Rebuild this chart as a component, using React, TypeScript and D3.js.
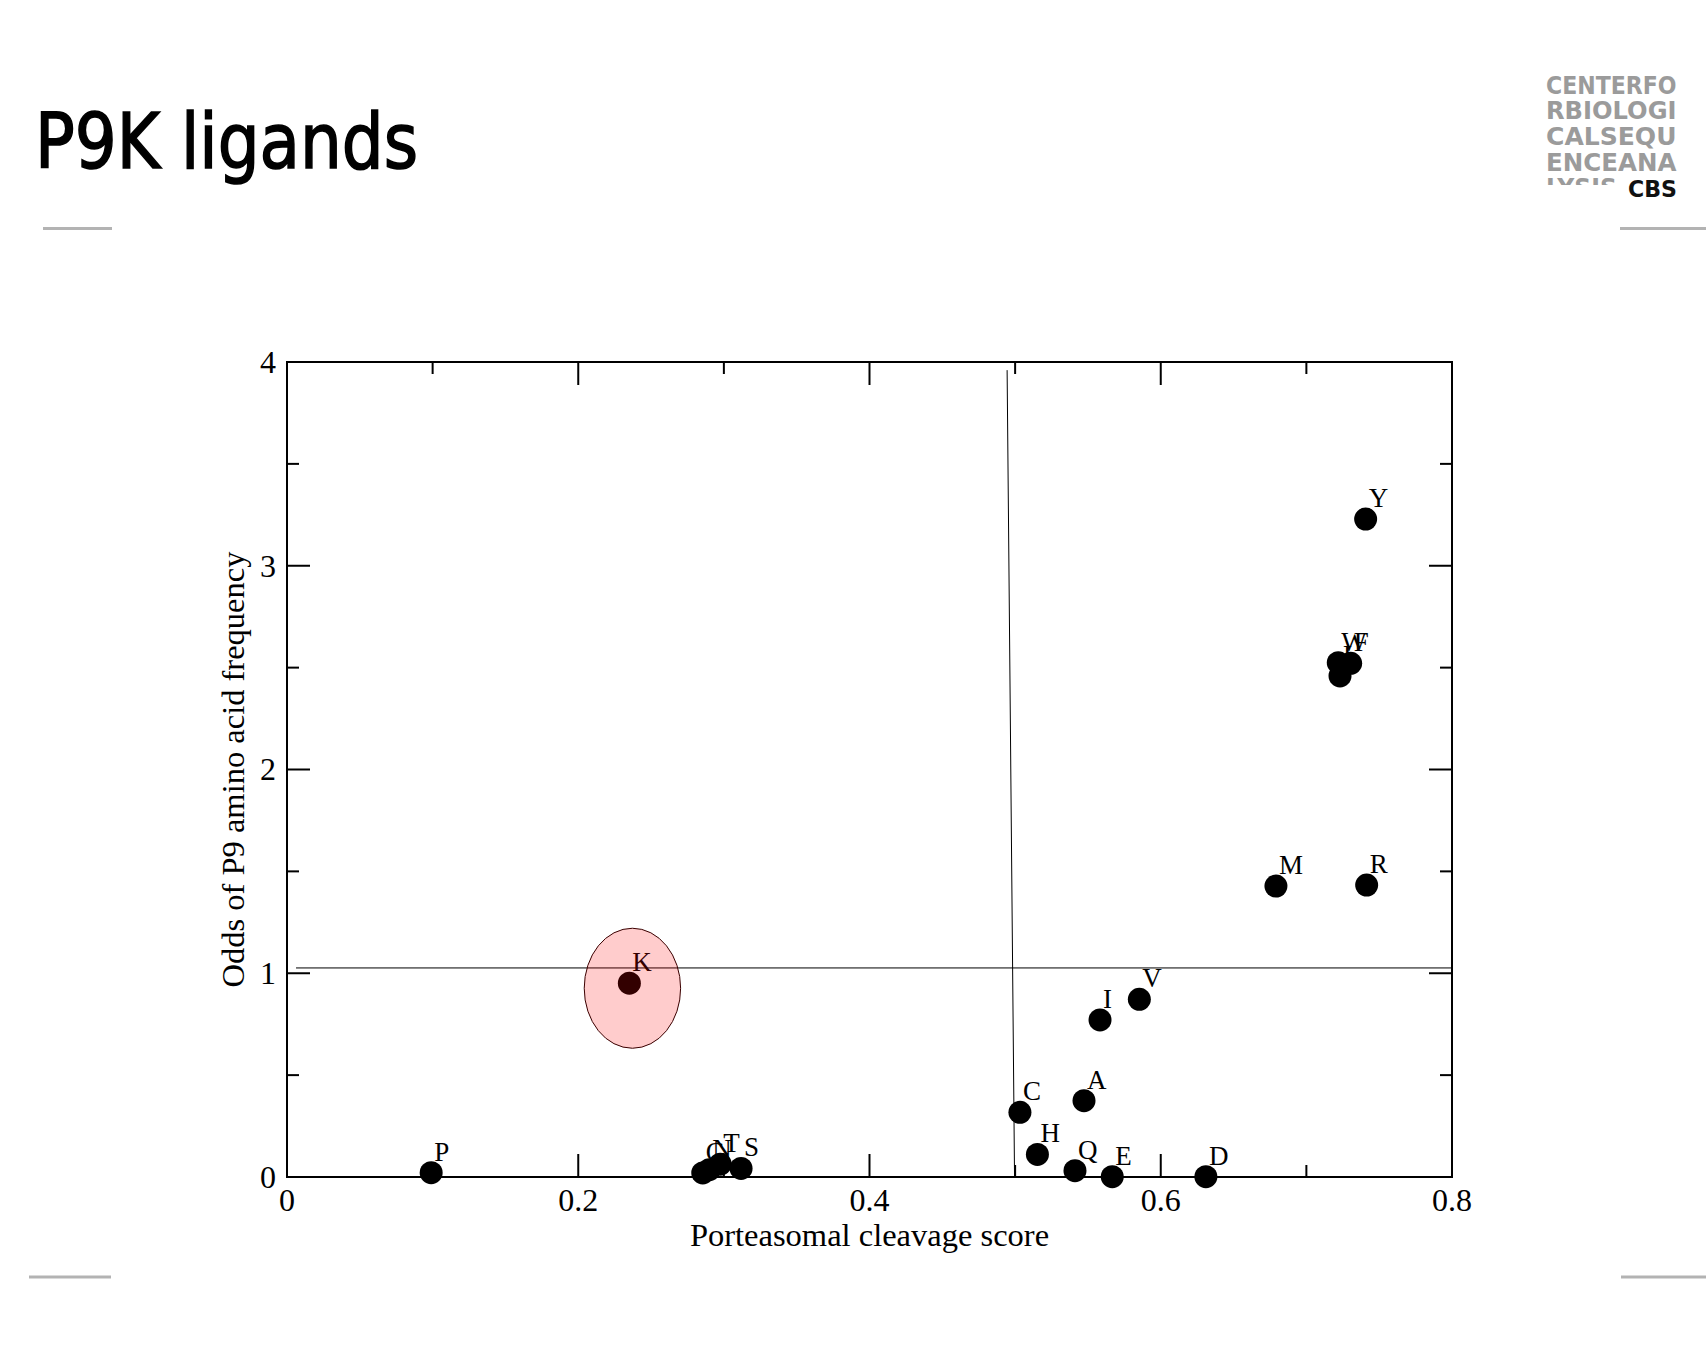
import React from "react";
import * as d3 from "d3";

const W = 1706;
const H = 1365;

// Data (amino acid at P9)
const residues = ["L", "P", "G", "N", "T", "S", "K", "C", "H", "A", "Q", "E", "I", "V", "D", "M", "R", "W", "F", "Y"];
const cleavage = [0.7231, 0.099, 0.2855, 0.290, 0.2975, 0.3118, 0.2351, 0.5033, 0.5153, 0.5473, 0.5411, 0.5667, 0.5583, 0.5853, 0.631, 0.6791, 0.7414, 0.7219, 0.7304, 0.7407];
const odds = [2.459, 0.021, 0.02, 0.036, 0.063, 0.042, 0.951, 0.3175, 0.111, 0.3745, 0.031, 0.0015, 0.771, 0.872, 0.0015, 1.428, 1.433, 2.524, 2.521, 3.229];

// Reference lines
const vLineX = [0.4945, 0.4996];
const vLineY = [3.96, 0];
const hLineX = [0.0062, 0.8];
const hLineY = [1.026, 1.026];

// Highlight ellipse around K: [cx, cy, rx, ry]
const highlight = [0.2372, 0.9264, 0.0331, 0.2945];

const xTicks = [0, 0.1, 0.2, 0.3, 0.4, 0.5, 0.6, 0.7, 0.8];
const yTicks = [0, 0.5, 1, 1.5, 2, 2.5, 3, 3.5, 4];

const logoRows = ["CENTERFO", "RBIOLOGI", "CALSEQU", "ENCEANA", "LYSIS"];

export default function App() {
  const x = d3.scaleLinear().domain([0, 0.8]).range([287, 1452]);
  const y = d3.scaleLinear().domain([0, 4]).range([1177, 362]);
  const serif = "'Liberation Serif', 'Times New Roman', serif";
  const fmt = d3.format("~g");
  const isMajorX = (v: number) => Math.abs(Math.round(v * 10) % 2) === 0;
  const isMajorY = (v: number) => Math.abs(v - Math.round(v)) < 1e-9;
  const [ecx, ecy, erx, ery] = highlight;

  return (
    <svg width={W} height={H} style={{ position: "absolute", left: 0, top: 0, background: "#fff" }}>
      <rect x={0} y={0} width={W} height={H} fill="#fff" />
      {/* Title */}
      <text x={35} y={168} fontFamily="'Comic Sans MS', 'DejaVu Sans', sans-serif" fontSize={76} fill="#000"
        stroke="#000" strokeWidth={1.6} textLength={383} lengthAdjust="spacingAndGlyphs">P9K ligands</text>

      {/* decorative grey rules */}
      <line x1={43} x2={112} y1={228.5} y2={228.5} stroke="#b3b3b3" strokeWidth={3} />
      <line x1={1620} x2={1706} y1={228.5} y2={228.5} stroke="#b3b3b3" strokeWidth={3} />
      <line x1={29} x2={111} y1={1277} y2={1277} stroke="#b3b3b3" strokeWidth={3} />
      <line x1={1621} x2={1706} y1={1277} y2={1277} stroke="#b3b3b3" strokeWidth={3} />

      {/* CBS logo */}
      <defs>
        <clipPath id="logoClip">
          <rect x={1540} y={60} width={160} height={125} />
        </clipPath>
      </defs>
      <g clipPath="url(#logoClip)">
        {logoRows.map((r, i) => (
          <text key={r} x={1546} y={93.5 + i * 25.7} fontFamily="'DejaVu Sans', sans-serif" fontWeight="bold"
            fontSize={24} fill="#9b9b9b" textLength={i === 4 ? 71 : 130.5} lengthAdjust="spacingAndGlyphs">{r}</text>
        ))}
      </g>
      <text x={1677} y={196.7} textAnchor="end" fontFamily="'DejaVu Sans', sans-serif" fontWeight="bold"
        fontSize={23} fill="#111" textLength={49} lengthAdjust="spacingAndGlyphs">CBS</text>

      {/* reference lines */}
      <line x1={x(vLineX[0])} y1={y(vLineY[0])} x2={x(vLineX[1])} y2={y(vLineY[1])} stroke="#000" strokeWidth={1} />
      <line x1={x(hLineX[0])} y1={y(hLineY[0])} x2={x(hLineX[1])} y2={y(hLineY[1])} stroke="#000" strokeWidth={1} />

      {/* frame */}
      <rect x={x(0)} y={y(4)} width={x(0.8) - x(0)} height={y(0) - y(4)} fill="none" stroke="#000" strokeWidth={2} />

      {/* x ticks (bottom & top, inward) */}
      {xTicks.map((t) => {
        const len = isMajorX(t) ? 23 : 12;
        return (
          <g key={"xt" + t}>
            <line x1={x(t)} x2={x(t)} y1={y(0)} y2={y(0) - len} stroke="#000" strokeWidth={2} />
            <line x1={x(t)} x2={x(t)} y1={y(4)} y2={y(4) + len} stroke="#000" strokeWidth={2} />
            {isMajorX(t) && (
              <text x={x(t)} y={1211} textAnchor="middle" fontFamily={serif} fontSize={32} fill="#000">{fmt(t)}</text>
            )}
          </g>
        );
      })}
      {/* y ticks (left & right, inward) */}
      {yTicks.map((t) => {
        const len = isMajorY(t) ? 23 : 12;
        return (
          <g key={"yt" + t}>
            <line x1={x(0)} x2={x(0) + len} y1={y(t)} y2={y(t)} stroke="#000" strokeWidth={2} />
            <line x1={x(0.8)} x2={x(0.8) - len} y1={y(t)} y2={y(t)} stroke="#000" strokeWidth={2} />
            {isMajorY(t) && (
              <text x={276} y={y(t)} dy="0.34em" textAnchor="end" fontFamily={serif} fontSize={32} fill="#000">{fmt(t)}</text>
            )}
          </g>
        );
      })}

      {/* axis titles */}
      <text x={(x(0) + x(0.8)) / 2} y={1246} textAnchor="middle" fontFamily={serif} fontSize={32.5} fill="#000">
        Porteasomal cleavage score
      </text>
      <text transform={`translate(244, ${(y(0) + y(4)) / 2}) rotate(-90)`} textAnchor="middle" fontFamily={serif}
        fontSize={32.5} fill="#000">Odds of P9 amino acid frequency</text>

      {/* points with labels */}
      {residues.map((r, i) => (
        <g key={r}>
          <circle cx={x(cleavage[i])} cy={y(odds[i])} r={11.5} fill="#000" />
          <text x={x(cleavage[i]) + 3} y={y(odds[i]) - 12} fontFamily={serif} fontSize={27} fill="#000">{r}</text>
        </g>
      ))}

      {/* highlight ellipse */}
      <ellipse cx={x(ecx)} cy={y(ecy)} rx={x(erx) - x(0)} ry={y(0) - y(ery)} fill="#ff0000" fillOpacity={0.2}
        stroke="#3a0000" strokeWidth={1} />
    </svg>
  );
}
